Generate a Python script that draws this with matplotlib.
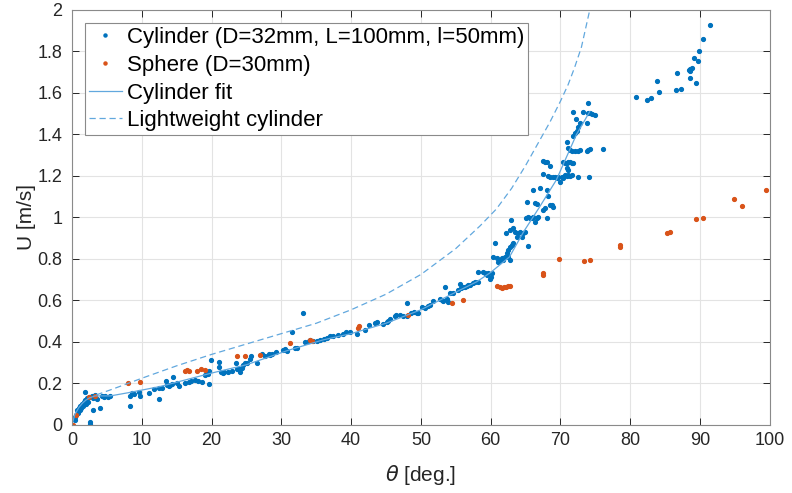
import matplotlib
matplotlib.use("Agg")
import matplotlib.pyplot as plt
import numpy as np

plt.rcParams['font.family'] = ['Liberation Sans', 'DejaVu Sans']

# Cylinder (D=32mm, L=100mm, l=50mm) measurements
cyl_theta = [0.4, 0.57, 0.67, 0.95, 1.2, 1.43, 1.67, 1.9, 2.15, 2.4, 2.86, 3.3,
             0.2, 0.5, 0.8, 1.1, 1.3, 1.6, 2.0, 2.3, 3.0, 3.6,
             1.9, 2.6, 2.65, 2.96, 4.06, 4.3, 4.6, 4.8, 5.2, 5.5,
             8.35, 8.35, 8.6, 8.9, 9.55, 9.7, 11.1, 11.7, 12.4, 12.4, 12.9, 13.4, 13.9,
             13.6, 14.0, 14.3, 14.5, 15.0, 15.3, 16.2, 16.7, 17.1, 17.6, 18.1, 18.6,
             19.1, 19.3, 19.5, 19.6, 19.7, 19.9, 21.0, 21.0, 21.3, 21.6, 21.8, 22.3,
             23.0, 23.6, 23.9, 24.3, 23.5, 24.1, 24.5, 24.8, 25.1, 25.5, 25.6, 26.5,
             27.2, 27.7, 28.2, 28.4, 28.7, 29.3, 30.3, 30.5, 30.8, 31.5,
             31.9, 32.2, 33.1, 33.4, 33.9, 34.1, 34.6, 35.1, 35.6, 36.1, 36.5, 37.0,
             37.4, 38.1, 38.8, 39.3, 39.8, 40.8, 42.0, 42.5, 43.4, 43.7, 44.6, 45.1,
             45.3, 45.6, 46.3, 46.5, 47.0, 47.5, 48.0, 48.0, 48.6, 49.0, 49.4,
             49.6, 50.1, 50.6, 51.0, 51.3, 51.8, 52.7, 53.0, 53.2, 53.7, 53.9, 53.4,
             54.2, 54.6, 55.3, 55.6, 55.8, 56.1, 56.3, 56.6, 56.8, 57.0, 57.5, 57.7,
             58.2, 58.2, 58.9, 59.2, 59.4, 59.6, 59.9, 60.1,
             60.13, 60.6, 60.36, 60.84, 61.08, 61.32, 61.56, 61.79, 62.03,
             62.27, 62.51, 62.75, 62.99, 63.22, 62.75, 62.51,
             62.17, 62.89, 62.75,
             63.22, 63.46, 63.70, 63.94, 64.18, 64.42, 64.66, 64.90, 65.28,
             65.13, 65.37, 65.61, 65.85, 66.09, 66.33, 66.57, 66.81,
             65.23, 66.09, 66.33, 66.57, 67.05,
             67.53, 67.77, 68.0, 68.24, 68.48, 68.72, 68.96, 68.0,
             67.43, 67.77, 68.0, 68.48,
             67.43, 68.24, 68.48, 68.96, 69.2, 69.44, 69.68, 69.92, 70.15, 70.39,
             70.63, 70.87, 71.11, 71.35, 71.59, 72.54, 74.12,
             70.39, 70.63, 70.87, 71.11, 71.35, 71.59, 71.83, 70.87, 71.11,
             70.97, 71.11, 71.35, 71.59, 72.06, 72.54, 72.78, 73.74, 73.97, 74.21, 76.03,
             71.83, 72.06, 72.3, 72.54, 72.21, 72.78, 73.74, 71.73, 73.16, 73.88,
             73.97, 74.21, 74.45, 74.93,
             80.8, 82.4, 83.0, 84.1, 83.9, 86.6, 87.2, 86.7, 88.4, 88.5, 88.6, 88.9,
             88.6, 89.4, 89.1, 89.7, 89.8, 90.4, 91.4]
cyl_u = [0.024, 0.048, 0.07, 0.08, 0.09, 0.10, 0.11, 0.12, 0.13, 0.136, 0.14, 0.143,
         0.03, 0.04, 0.06, 0.07, 0.08, 0.09, 0.10, 0.11, 0.13, 0.125,
         0.16, 0.016, 0.005, 0.072, 0.08, 0.14, 0.135, 0.138, 0.137, 0.14,
         0.093, 0.14, 0.156, 0.15, 0.16, 0.14, 0.153, 0.172, 0.124, 0.18, 0.18, 0.214, 0.19,
         0.193, 0.193, 0.195, 0.233, 0.2, 0.19, 0.2, 0.205, 0.21, 0.215, 0.213, 0.207,
         0.24, 0.252, 0.245, 0.26, 0.198, 0.313, 0.305, 0.28, 0.255, 0.25, 0.255, 0.257,
         0.26, 0.27, 0.272, 0.275, 0.297, 0.257, 0.29, 0.3, 0.3, 0.316, 0.33, 0.297,
         0.34, 0.333, 0.343, 0.338, 0.34, 0.35, 0.36, 0.365, 0.355, 0.45,
         0.373, 0.37, 0.541, 0.40, 0.405, 0.41, 0.405, 0.405, 0.41, 0.415, 0.42, 0.428,
         0.43, 0.433, 0.44, 0.448, 0.448, 0.44, 0.458, 0.48, 0.49, 0.495, 0.487, 0.497,
         0.502, 0.51, 0.525, 0.53, 0.53, 0.527, 0.525, 0.586, 0.54, 0.545, 0.54,
         0.538, 0.567, 0.562, 0.573, 0.578, 0.599, 0.606, 0.602, 0.599, 0.606, 0.594, 0.664,
         0.635, 0.638, 0.651, 0.68, 0.659, 0.664, 0.667, 0.67, 0.675, 0.675, 0.683, 0.687,
         0.691, 0.737, 0.739, 0.731, 0.723, 0.731, 0.702, 0.715,
         0.731, 0.879, 0.811, 0.803, 0.787, 0.795, 0.803, 0.795, 0.811,
         0.827, 0.843, 0.859, 0.867, 0.875, 0.795, 0.811,
         0.924, 0.988, 0.94,
         0.948, 0.932, 0.908, 0.924, 0.932, 0.908, 0.924, 0.932, 0.863,
         0.996, 1.004, 0.999, 0.996, 1.004, 0.98, 0.996, 1.004,
         1.076, 1.133, 1.068, 1.065, 1.141,
         1.036, 1.044, 1.133, 1.101, 1.06, 1.06, 1.052, 0.996,
         1.272, 1.269, 1.269, 1.248,
         1.208, 1.2, 1.194, 1.194, 1.194, 1.189, 1.194, 1.173, 1.197, 1.189,
         1.205, 1.2, 1.205, 1.2, 1.205, 1.194, 1.197,
         1.269, 1.264, 1.261, 1.269, 1.269, 1.261, 1.264, 1.237, 1.229,
         1.365, 1.333, 1.325, 1.322, 1.322, 1.322, 1.325, 1.322, 1.325, 1.33, 1.33,
         1.39, 1.406, 1.414, 1.438, 1.473, 1.454, 1.454, 1.51, 1.51, 1.55,
         1.502, 1.502, 1.499, 1.494,
         1.582, 1.566, 1.574, 1.603, 1.655, 1.614, 1.619, 1.695, 1.709, 1.707, 1.714, 1.722,
         1.671, 1.65, 1.767, 1.754, 1.80, 1.86, 1.926]

# Sphere (D=30mm) measurements
sph_theta = [0.2, 0.57, 2.5, 3.3, 8.0, 9.8, 16.2, 16.5, 16.7, 17.9, 18.5, 19.0,
             23.6, 24.8, 26.9, 31.2, 34.1, 34.4, 41.0, 41.1, 48.2, 54.4, 56.1,
             60.9, 61.3, 61.6, 61.9, 62.2, 62.5, 62.7, 67.5, 67.5, 69.8, 73.3, 74.3,
             78.5, 78.5, 85.3, 85.7, 89.4, 90.4, 94.9, 96.0, 99.4]
sph_u = [0.0, 0.05, 0.133, 0.14, 0.2, 0.209, 0.262, 0.265, 0.262, 0.262, 0.27, 0.266,
         0.33, 0.33, 0.337, 0.397, 0.408, 0.405, 0.469, 0.478, 0.53, 0.589, 0.602,
         0.67, 0.665, 0.66, 0.665, 0.667, 0.67, 0.668, 0.731, 0.723, 0.798, 0.792, 0.795,
         0.867, 0.856, 0.924, 0.932, 0.994, 0.998, 1.088, 1.057, 1.134]

# Cylinder fit curve
fit_theta = [0, 0.4, 1, 1.5, 2, 2.5, 3.3, 5.5, 8, 10, 12.6, 20, 25, 31, 36, 40,
             45, 50, 55, 58, 60, 62.7, 64.7, 67, 69.4, 72.3, 74.2]
fit_u = [0, 0.05, 0.085, 0.105, 0.12, 0.13, 0.14, 0.14, 0.155, 0.168, 0.185, 0.25,
         0.29, 0.36, 0.41, 0.44, 0.49, 0.555, 0.64, 0.69, 0.735, 0.81, 0.93, 1.05,
         1.18, 1.40, 1.51]

# Lightweight cylinder curve
light_theta = [3.5, 6, 10, 15, 20, 25, 30, 35, 40, 45, 50, 55, 58.5, 60.8, 63,
               65, 67, 68.5, 70, 71.1, 72, 73, 74.2]
light_u = [0.145, 0.175, 0.225, 0.285, 0.34, 0.39, 0.44, 0.49, 0.555, 0.63, 0.725,
           0.85, 0.96, 1.04, 1.14, 1.25, 1.37, 1.46, 1.56, 1.64, 1.72, 1.82, 2.0]

xticks = [0, 10, 20, 30, 40, 50, 60, 70, 80, 90, 100]
yticks = [0, 0.2, 0.4, 0.6, 0.8, 1, 1.2, 1.4, 1.6, 1.8, 2]

blue = '#0072BD'
orange = '#D95319'
fitc = '#62A8DE'
axc = '#262626'

fig = plt.figure(figsize=(7.92, 4.93), dpi=100)
ax = fig.add_axes([0.0909, 0.138, 0.972 - 0.0909, 0.980 - 0.138])

ax.plot(cyl_theta, cyl_u, '.', color=blue, markersize=5.5,
        label='Cylinder (D=32mm, L=100mm, l=50mm)')
ax.plot(sph_theta, sph_u, '.', color=orange, markersize=5.5, label='Sphere (D=30mm)')
ax.plot(fit_theta, fit_u, '-', color=fitc, linewidth=0.9, label='Cylinder fit')
ax.plot(light_theta, light_u, '--', color=fitc, linewidth=0.9, dashes=(5, 3),
        label='Lightweight cylinder')

ax.set_xlim(0, 100)
ax.set_ylim(0, 2)
ax.set_xticks(xticks)
ax.set_yticks(yticks)
ax.set_xticklabels(['%g' % v for v in xticks])
ax.set_yticklabels(['%g' % v for v in yticks])
ax.grid(True, color='#e3e3e3', linewidth=0.8)
ax.set_axisbelow(True)
ax.tick_params(direction='in', length=5, width=0.7, top=True, right=True,
               labelsize=13, colors=axc)
ax.tick_params(axis='y', pad=7)
ax.tick_params(axis='x', pad=5)
for s in ax.spines.values():
    s.set_color('#8a8a8a')
    s.set_linewidth(0.8)

ax.set_xlabel(r'$\theta$ [deg.]', fontsize=15, color=axc, labelpad=10)
ax.set_ylabel('U [m/s]', fontsize=15, color=axc, labelpad=1)

leg = ax.legend(loc='upper left', fontsize=16, frameon=True, fancybox=False,
                edgecolor='#8a8a8a', framealpha=1, borderpad=0.18, labelspacing=0.3,
                handlelength=1.45, handletextpad=0.25, borderaxespad=0.6,
                markerscale=0.8)
leg.get_frame().set_linewidth(0.8)

fig.savefig('out.png', dpi=100)
